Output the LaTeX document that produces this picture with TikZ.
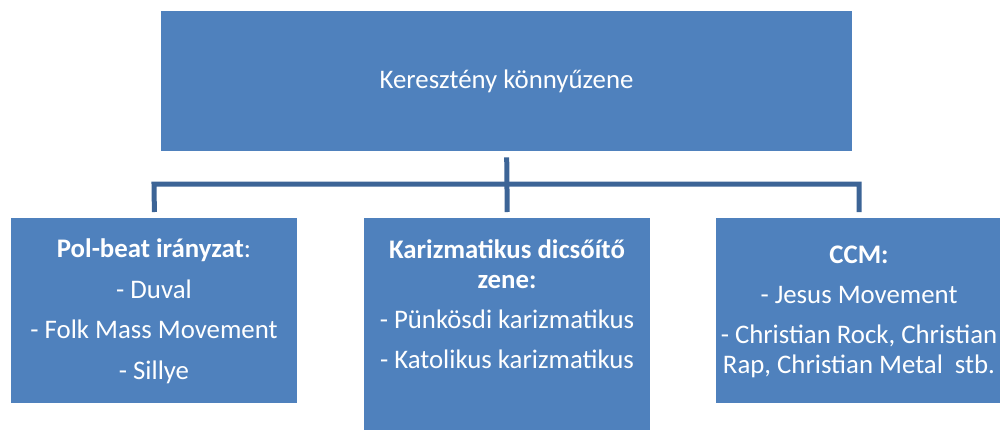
\documentclass[tikz,border=0pt]{standalone}
\usepackage{fontspec}
\setmainfont{Carlito}
\definecolor{boxfill}{HTML}{4F81BD}
\definecolor{linkcol}{HTML}{3C6496}
\begin{document}
\begin{tikzpicture}[x=1pt,y=-1pt,
  box/.style={draw=none,fill=boxfill,inner sep=0pt,anchor=north west},
  txt/.style={text=white,inner sep=0pt,anchor=base,font=\fontsize{26.8}{31}\selectfont},
  link/.style={draw=linkcol,line width=5pt}]
\useasboundingbox (0,0) rectangle (1000,429);
\clip (0,0) rectangle (1000,429);
% boxes
\node[box,minimum width=691pt,minimum height=140pt] (top) at (161,11) {};
\node[box,minimum width=286pt,minimum height=185pt] (left) at (11,218) {};
\node[box,minimum width=286pt,minimum height=215pt] (mid) at (364,218) {};
\node[box,minimum width=286pt,minimum height=185pt] (right) at (716,218) {};
% connectors
\coordinate (lk) at (154,184);
\coordinate (rk) at (859,184);
\draw[link] ([yshift=-6pt]top.south) -- ([yshift=6pt]mid.north);
\draw[link] ([xshift=-143pt,yshift=6pt]left.north east) -- (lk) -- (rk) -- ([xshift=143pt,yshift=6pt]right.north west);
% texts
\node[txt] (t0) at (506.5,88) {Keresztény könnyűzene};
\node[txt] (l1) at (154,257) {\textbf{Pol-beat irányzat}:};
\node[txt] (l2) at (154,298) {- Duval};
\node[txt] (l3) at (154,338) {- Folk Mass Movement};
\node[txt] (l4) at (154,379) {- Sillye};
\node[txt] (m1) at (507,258) {\textbf{Karizmatikus dicsőítő}};
\node[txt] (m2) at (507,288) {\textbf{zene:}};
\node[txt] (m3) at (507,328) {- Pünkösdi karizmatikus};
\node[txt] (m4) at (507,368) {- Katolikus karizmatikus};
\node[txt] (r1) at (859,263) {\textbf{CCM:}};
\node[txt] (r2) at (859,303) {- Jesus Movement};
\node[txt] (r3) at (859,343) {- Christian Rock, Christian};
\node[txt] (r4) at (859,373) {Rap, Christian Metal\ \ stb.};
\end{tikzpicture}
\end{document}
